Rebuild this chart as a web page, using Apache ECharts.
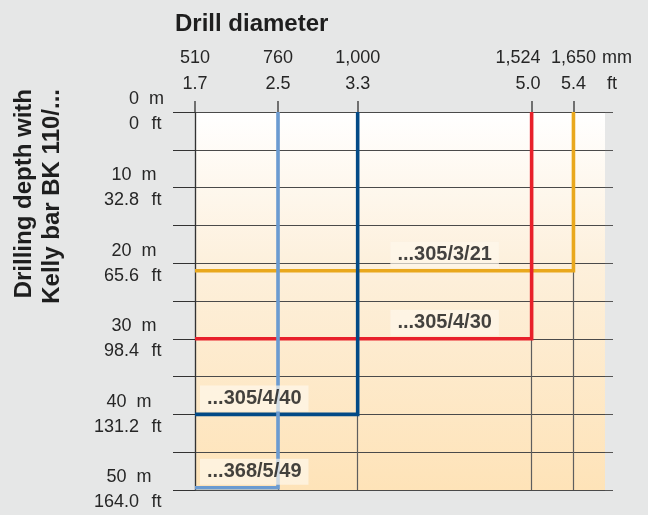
<!DOCTYPE html>
<html>
<head>
<meta charset="utf-8">
<style>
  html, body { margin: 0; padding: 0; background: #e6e7e7; }
  #chart { width: 648px; height: 515px; }
</style>
<script src="https://cdn.jsdelivr.net/npm/echarts@6/dist/echarts.min.js"></script>
</head>
<body>
<div id="chart"></div>
<script>
// ---- data ----
const DIAM_MM = [510, 760, 1000, 1524, 1650];
const DIAM_MM_TEXT = ['510', '760', '1,000', '1,524', '1,650'];
const DIAM_FT_TEXT = ['1.7', '2.5', '3.3', '5.0', '5.4'];
const DEPTH_TICKS_M = [0, 10, 20, 30, 40, 50];
const DEPTH_TICKS_FT = ['0', '32.8', '65.6', '98.4', '131.2', '164.0'];
const MODEL_NAMES = ['...305/3/21', '...305/4/30', '...305/4/40', '...368/5/49'];
const MODEL_DIAM_MM = [1650, 1524, 1000, 760];
const MODEL_DEPTH_M = [21, 30, 40, 49.7];

// ---- styles ----
const COLORS = ['#e9a81d', '#e8202a', '#034a86', '#6b9bd1'];
const FONT = '"Liberation Sans", Arial, Helvetica, sans-serif';
const TEXT = '#262626';
const GRID_COLOR = '#4a4a4a';

const chart = echarts.init(document.getElementById('chart'), null, { renderer: 'canvas' });

const lineSeries = MODEL_NAMES.map((name, i) => ({
  name: name,
  type: 'line',
  symbol: 'none',
  silent: true,
  lineStyle: { color: COLORS[i], width: 3.6, join: 'miter', cap: 'butt' },
  data: [
    [DIAM_MM[0], MODEL_DEPTH_M[i]],
    [MODEL_DIAM_MM[i], MODEL_DEPTH_M[i]],
    [MODEL_DIAM_MM[i], 0]
  ],
  z: 3 + i
}));

const labelSeries = {
  type: 'scatter',
  symbolSize: 0,
  silent: true,
  z: 10,
  data: MODEL_NAMES.map((name, i) => {
    const wide = i < 2;
    return {
      name: name,
      value: [wide ? (DIAM_MM[2] + DIAM_MM[3]) / 2 : DIAM_MM[0], MODEL_DEPTH_M[i]],
      label: { align: wide ? 'center' : 'left', offset: wide ? [0, 0] : [5, 0] }
    };
  }),
  label: {
    show: true,
    position: 'top',
    distance: 3,
    formatter: '{b}',
    fontFamily: FONT,
    fontSize: 20,
    fontWeight: 'bold',
    color: '#141414',
    backgroundColor: 'rgba(254,247,236,0.85)',
    padding: [3, 7, 3, 7],
    lineHeight: 20
  }
};

const option = {
  animation: false,
  backgroundColor: '#e6e7e7',
  textStyle: { fontFamily: FONT },
  grid: {
    left: 195, top: 112, width: 410, height: 378,
    show: true,
    borderWidth: 0,
    backgroundColor: {
      type: 'linear', x: 0, y: 0, x2: 0, y2: 1,
      colorStops: [
        { offset: 0, color: '#ffffff' },
        { offset: 0.4, color: '#fdf0dc' },
        { offset: 1, color: '#fee3b8' }
      ]
    }
  },
  xAxis: {
    type: 'value',
    position: 'top',
    min: 510,
    max: 1745,
    axisLine: { show: false },
    axisTick: {
      show: true, customValues: DIAM_MM, length: 11,
      lineStyle: { color: '#707070', width: 2 }
    },
    splitLine: { show: true, lineStyle: { color: '#5e5e5e', width: 1.2 } },
    axisLabel: {
      customValues: DIAM_MM,
      showMinLabel: true,
      showMaxLabel: true,
      hideOverlap: false,
      margin: 15,
      fontFamily: FONT,
      fontSize: 18,
      color: TEXT,
      lineHeight: 26,
      formatter: (v) => {
        const i = DIAM_MM.indexOf(v);
        if (i < 0) return '';
        const k = i === 3 ? 'l' : 'c';
        return '{' + k + '|' + DIAM_MM_TEXT[i] + '}\n{' + k + '|' + DIAM_FT_TEXT[i] + '}';
      },
      rich: {
        c: { fontFamily: FONT, fontSize: 18, color: TEXT, lineHeight: 26 },
        l: { fontFamily: FONT, fontSize: 18, color: TEXT, lineHeight: 26, width: 18, align: 'right' }
      }
    }
  },
  yAxis: [{
    type: 'value',
    inverse: true,
    min: 0,
    max: 50,
    interval: 5,
    axisLine: { show: true, lineStyle: { color: '#333333', width: 1.2 } },
    axisTick: { show: true, length: 22, lineStyle: { color: '#333333', width: 1 } },
    splitLine: { show: true, lineStyle: { color: GRID_COLOR, width: 1 } },
    axisLabel: {
      margin: 30,
      showMinLabel: true,
      showMaxLabel: true,
      fontFamily: FONT,
      fontSize: 18,
      color: TEXT,
      lineHeight: 25,
      formatter: (v) => {
        const i = DEPTH_TICKS_M.indexOf(v);
        if (i < 0) return '';
        return '{n|' + DEPTH_TICKS_M[i] + '}{u|m}\n{n|' + DEPTH_TICKS_FT[i] + '}{u|ft}';
      },
      rich: {
        n: { fontFamily: FONT, fontSize: 18, color: TEXT, lineHeight: 25, padding: [0, 9, 0, 0] },
        u: { fontFamily: FONT, fontSize: 18, color: TEXT, lineHeight: 25, width: 17, align: 'left' }
      }
    }
  }, {
    type: 'value',
    inverse: true,
    position: 'right',
    min: 0,
    max: 50,
    interval: 5,
    axisLine: { show: false },
    axisTick: { show: true, length: 8, lineStyle: { color: '#555555', width: 1 } },
    splitLine: { show: false },
    axisLabel: { show: false }
  }],
  graphic: [
    {
      type: 'text', x: 175, y: 24, silent: true,
      style: { text: 'Drill diameter', font: 'bold 24px ' + FONT, fill: '#1e1e1e', verticalAlign: 'middle', align: 'left' }
    },
    {
      type: 'text', x: 602, y: 58, silent: true,
      style: { text: 'mm', font: '18px ' + FONT, fill: TEXT, verticalAlign: 'middle', align: 'left' }
    },
    {
      type: 'text', x: 607, y: 84, silent: true,
      style: { text: 'ft', font: '18px ' + FONT, fill: TEXT, verticalAlign: 'middle', align: 'left' }
    },
    {
      type: 'text', x: 38, y: 89, rotation: Math.PI / 2, silent: true,
      style: {
        text: 'Drilling depth with\nKelly bar BK 110/...',
        font: 'bold 24px ' + FONT, fill: '#1e1e1e', lineHeight: 28,
        align: 'right', verticalAlign: 'middle'
      }
    }
  ],
  series: lineSeries.concat([labelSeries])
};

chart.setOption(option);
</script>
</body>
</html>
